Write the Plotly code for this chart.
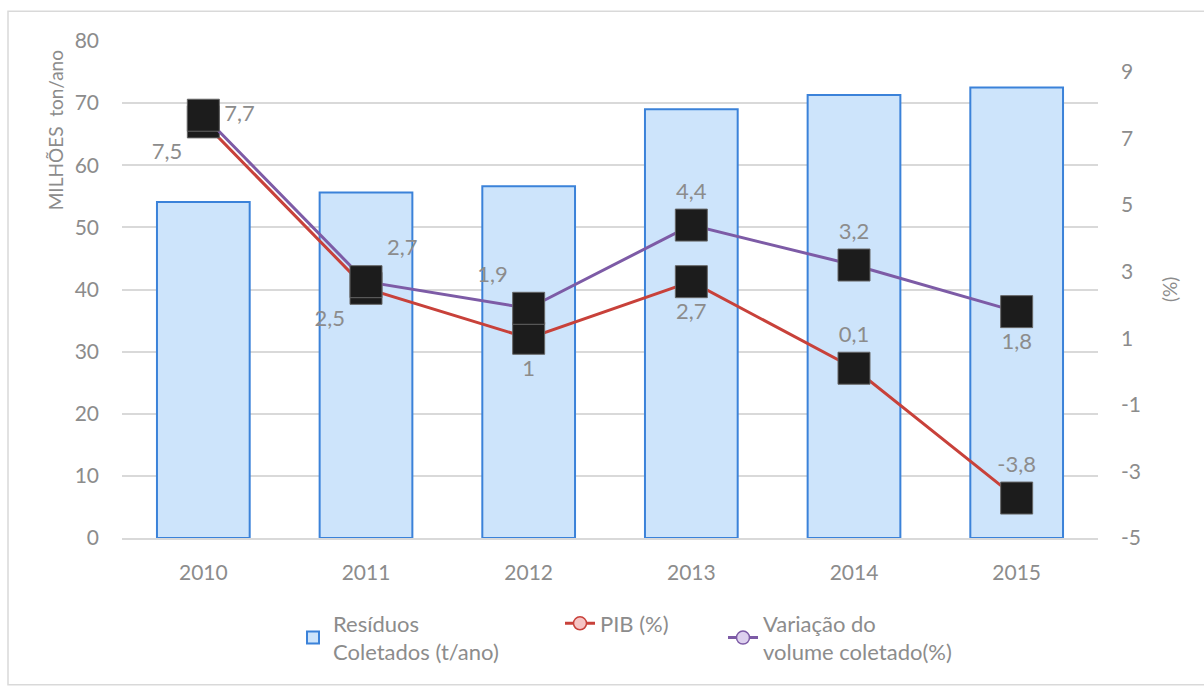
import plotly.graph_objects as go

years = ["2010", "2011", "2012", "2013", "2014", "2015"]
residuos = [54.1, 55.6, 56.6, 69.0, 71.3, 72.5]
pib = [7.5, 2.5, 1.0, 2.7, 0.1, -3.8]
variacao = [7.7, 2.7, 1.9, 4.4, 3.2, 1.8]

left_ticks = [0, 10, 20, 30, 40, 50, 60, 70, 80]
right_ticks = [-5, -3, -1, 1, 3, 5, 7, 9]

pib_pos = ["bottom left", "bottom left", "bottom center", "bottom center", "top center", "top center"]
var_pos = ["middle right", "top right", "top left", "top center", "top center", "bottom center"]

FONT = "Lato, 'Open Sans', sans-serif"
GRAY = "#8c8c8c"
RED = "#c8413a"
PURPLE = "#7d5ba6"


def fmt(v):
    return ("%g" % v).replace(".", ",")


fig = go.Figure()

fig.add_trace(go.Bar(
    x=years, y=residuos, name="Resíduos<br>Coletados (t/ano)",
    marker=dict(color="#cde4fb", line=dict(color="#3b82d9", width=2)),
    width=0.57, legend="legend", showlegend=True,
))

for vals, col, pos in [(pib, RED, pib_pos), (variacao, PURPLE, var_pos)]:
    fig.add_trace(go.Scatter(
        x=years, y=vals, yaxis="y2", mode="lines+markers+text",
        line=dict(color=col, width=3),
        marker=dict(symbol="square", size=32, color="#1c1c1c", line=dict(color="#666", width=1)),
        text=[fmt(v) for v in vals], textposition=pos,
        textfont=dict(family=FONT, size=22, color=GRAY),
        showlegend=False, cliponaxis=False,
    ))

# legend entries
fig.add_trace(go.Scatter(
    x=[None], y=[None], yaxis="y2", mode="lines+markers", name="PIB (%)",
    line=dict(color=RED, width=3),
    marker=dict(symbol="circle", size=13, color="#f6c4c4", line=dict(color=RED, width=1.5)),
    legend="legend2",
))
fig.add_trace(go.Scatter(
    x=[None], y=[None], yaxis="y2", mode="lines+markers", name="Variação do<br>volume coletado(%)",
    line=dict(color=PURPLE, width=3),
    marker=dict(symbol="circle", size=13, color="#ddd0ee", line=dict(color=PURPLE, width=1.5)),
    legend="legend3",
))

L, R, T, B = 122, 106, 41, 144
pw = 1204 - L - R
ph = 686 - T - B


def px_x(x):
    return (x - L) / pw


def px_y(y):
    return (686 - B - y) / ph


legfont = dict(family=FONT, size=22, color=GRAY)
tickfont = dict(family=FONT, size=21, color=GRAY)
leg_common = dict(xanchor="left", yanchor="top", orientation="h", font=legfont,
                  bgcolor="rgba(0,0,0,0)", itemwidth=30)
fig.update_layout(
    width=1204, height=686,
    margin=dict(l=L, r=R, t=T, b=B),
    paper_bgcolor="white", plot_bgcolor="white",
    font=dict(family=FONT, size=21, color=GRAY),
    xaxis=dict(showgrid=False, showline=True, linecolor="#d9d9d9", linewidth=1.5,
               tickfont=tickfont, ticks="", ticklabelstandoff=15),
    yaxis=dict(range=[0, 80], tickvals=left_ticks, showgrid=True, gridcolor="#d9d9d9", gridwidth=1.5,
               zeroline=False, tickfont=tickfont, ticklabelstandoff=22),
    yaxis2=dict(range=[-5, 9.93], tickvals=right_ticks, ticktext=[str(t) for t in right_ticks],
                overlaying="y", side="right", showgrid=False, zeroline=False,
                tickfont=tickfont, ticklabelstandoff=22),
    legend=dict(x=px_x(293), y=px_y(607), **leg_common),
    legend2=dict(x=px_x(560), y=px_y(607), **leg_common),
    legend3=dict(x=px_x(723), y=px_y(607), **leg_common),
    annotations=[
        dict(text="MILHÕES&nbsp;&nbsp;ton/ano", xref="paper", yref="paper", x=px_x(55), y=px_y(131),
             xanchor="center", yanchor="middle",
             textangle=-90, showarrow=False, font=dict(family=FONT, size=19, color=GRAY)),
        dict(text="(%)", xref="paper", yref="paper", x=px_x(1170), y=px_y(292),
             xanchor="center", yanchor="middle",
             textangle=-90, showarrow=False, font=dict(family=FONT, size=19, color=GRAY)),
    ],
    shapes=[
        dict(type="rect", xref="paper", yref="paper", x0=px_x(8), x1=px_x(1210), y0=px_y(690), y1=px_y(11),
             line=dict(color="#d9d9d9", width=1.5), layer="below"),
    ],
)

fig.write_html("out.html", config={"displayModeBar": False},
               post_script="document.body.style.margin='0';")
